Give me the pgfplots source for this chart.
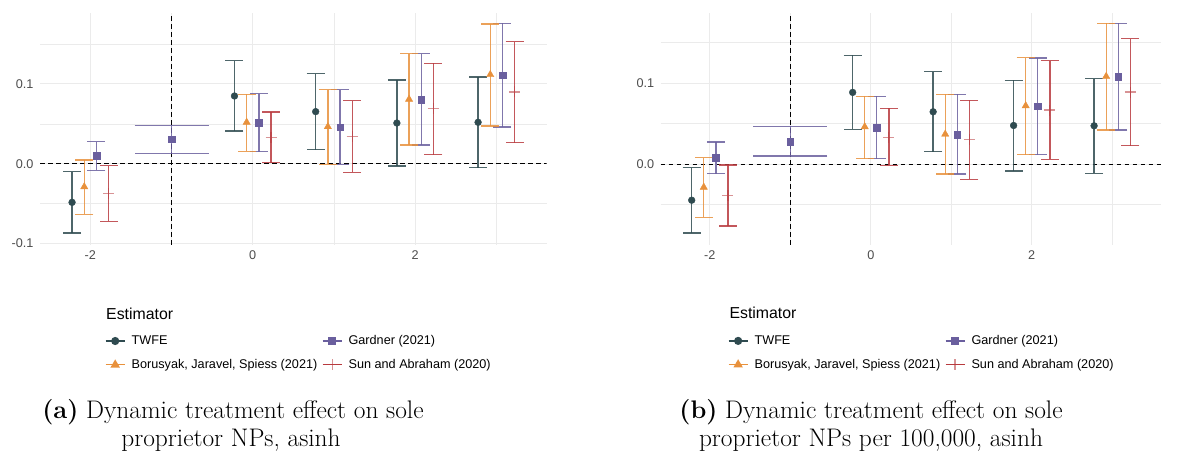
\documentclass[border=0pt]{standalone}
\usepackage{fontspec}
\usepackage{pgfplots}
\usepackage{pgfplotstable}
\pgfplotsset{compat=1.18}
\newfontfamily\arial{Liberation Sans}
\definecolor{twfe}{HTML}{2F4B50}
\definecolor{gard}{HTML}{6A5F9E}
\definecolor{bor}{HTML}{E8913C}
\definecolor{sun}{HTML}{B83A3E}
\definecolor{gridc}{HTML}{EBEBEB}
\definecolor{ticktext}{HTML}{4D4D4D}

% ---------- panel (a) ----------
\pgfplotstableread{
x y lo hi
-2.225 -0.0485 -0.087 -0.010
-0.225 0.0849 0.041 0.1293
0.775 0.0653 0.0176 0.113
1.775 0.051 -0.0029 0.105
2.775 0.0519 -0.005 0.1088
}\twfeA
\pgfplotstableread{
x y lo hi
-1.925 0.010 -0.0084 0.0276
0.075 0.0515 0.0151 0.0879
1.075 0.046 -0.0008 0.0929
2.075 0.0803 0.0234 0.138
3.075 0.1109 0.046 0.176
}\gardA
\pgfplotstableread{
x y lo hi
-1 0.0305 0.0126 0.0477
}\gardrefA
\pgfplotstableread{
x y lo hi
-2.075 -0.029 -0.0636 0.0046
-0.075 0.0519 0.0155 0.087
0.925 0.0464 -0.0008 0.0929
1.925 0.0808 0.0234 0.138
2.925 0.1117 0.0473 0.1753
}\borA
\pgfplotstableread{
x y lo hi
-1.775 -0.0377 -0.0724 -0.0025
0.225 0.033 0.0013 0.0649
1.225 0.0339 -0.0109 0.079
2.225 0.069 0.0113 0.126
3.225 0.09 0.0264 0.153
}\sunA

% ---------- panel (b) ----------
\pgfplotstableread{
x y lo hi
-2.225 -0.0444 -0.0848 -0.0041
-0.225 0.0885 0.0428 0.134
0.775 0.0646 0.0156 0.114
1.775 0.0477 -0.0086 0.1033
2.775 0.0473 -0.0111 0.1053
}\twfeB
\pgfplotstableread{
x y lo hi
-1.925 0.0078 -0.0115 0.0272
0.075 0.0449 0.007 0.0835
1.075 0.0366 -0.0123 0.086
2.075 0.0716 0.0119 0.1309
3.075 0.1082 0.042 0.1737
}\gardB
\pgfplotstableread{
x y lo hi
-1 0.028 0.0103 0.0465
}\gardrefB
\pgfplotstableread{
x y lo hi
-2.075 -0.0284 -0.0654 0.0082
-0.075 0.0461 0.007 0.0835
0.925 0.037 -0.0123 0.086
1.925 0.072 0.0119 0.1313
2.925 0.1082 0.042 0.1737
}\borB
\pgfplotstableread{
x y lo hi
-1.775 -0.0387 -0.0761 -0.0012
0.225 0.0333 -0.0016 0.0687
1.225 0.030 -0.0185 0.0786
2.225 0.0667 0.0058 0.1276
3.225 0.0889 0.023 0.1547
}\sunB

\pgfplotsset{
  myaxis/.style={
    scale only axis, anchor=south west,
    axis line style={draw=none}, tick style={draw=none}, major tick length=0pt,
    xmajorgrids, ymajorgrids, xminorgrids, yminorgrids,
    major grid style={gridc, line width=1.07bp},
    minor grid style={gridc, line width=0.6bp},
    xtick={-2,0,2}, xticklabels={{-2},{0},{2}}, minor xtick={-1,1,3},
    ytick={-0.1,0,0.1}, yticklabels={{-0.1},{0.0},{0.1}}, minor ytick={-0.05,0.05,0.15},
    ticklabel style={font=\arial\fontsize{12.7}{15}\selectfont, text=ticktext},
    xticklabel style={yshift=-2bp},
    yticklabel style={xshift=-3bp},
    legend columns=2, legend cell align=left,
    legend style={draw=none, fill=none, anchor=north west,
      font=\arial\fontsize{12.7}{15}\selectfont, inner sep=0pt, row sep=13bp,
      nodes={inner sep=0pt},
      /tikz/every odd column/.style={column sep=6.3bp},
      /tikz/every even column/.style={column sep=4.7bp}},
  },
  eb/.style={only marks,
    error bars/y dir=both, error bars/y explicit,
    error bars/error bar style={line width=1.35bp, solid, #1, opacity=0.85},
    error bars/error mark options={rotate=90, line width=1.35bp, mark size=9bp, #1, opacity=0.85},
    legend image code/.code={\draw[mark repeat=2,mark phase=2,##1, sharp plot, line width=1.3bp] plot coordinates {(0bp,0bp) (9.5bp,0bp) (19bp,0bp)};}},
  ebwide/.style={only marks,
    error bars/y dir=both, error bars/y explicit,
    error bars/error bar style={line width=1.35bp, solid, #1, opacity=0.85},
    error bars/error mark options={rotate=90, line width=1.35bp, mark size=37bp, #1, opacity=0.85}},
  zl/.style={black, line width=1.2bp, dash pattern=on 4.5bp off 3.5bp, forget plot},
}

\begin{document}
\begin{tikzpicture}
\path[use as bounding box] (0bp,0bp) rectangle (1180bp,459bp);

\begin{axis}[myaxis, at={(40bp,214bp)}, width=506.7bp, height=232bp,
  xmin=-2.62, xmax=3.62, ymin=-0.102, ymax=0.189,
  legend style={at={(0.128,-0.39)}}]
\addplot[zl] coordinates {(-2.62,0) (3.62,0)};
\addplot[zl] coordinates {(-1,-0.102) (-1,0.189)};
\addplot[color=twfe, mark=*, mark size=3.4bp, eb=twfe] table[x=x, y=y, y error plus expr=\thisrow{hi}-\thisrow{y}, y error minus expr=\thisrow{y}-\thisrow{lo}] {\twfeA};
\addlegendentry{TWFE}
\addplot[color=gard, mark=square*, mark size=3.3bp, eb=gard] table[x=x, y=y, y error plus expr=\thisrow{hi}-\thisrow{y}, y error minus expr=\thisrow{y}-\thisrow{lo}] {\gardA};
\addlegendentry{Gardner (2021)}
\addplot[color=bor, mark=triangle*, mark size=4.2bp, eb=bor] table[x=x, y=y, y error plus expr=\thisrow{hi}-\thisrow{y}, y error minus expr=\thisrow{y}-\thisrow{lo}] {\borA};
\addlegendentry{Borusyak, Jaravel, Spiess (2021)}
\addplot[color=sun, mark=+, mark size=5.5bp, mark options={opacity=0.55, line width=1.2bp}, eb=sun] table[x=x, y=y, y error plus expr=\thisrow{hi}-\thisrow{y}, y error minus expr=\thisrow{y}-\thisrow{lo}] {\sunA};
\addlegendentry{Sun and Abraham (2020)}
\addplot[color=gard, mark=square*, mark size=3.3bp, ebwide=gard, forget plot] table[x=x, y=y, y error plus expr=\thisrow{hi}-\thisrow{y}, y error minus expr=\thisrow{y}-\thisrow{lo}] {\gardrefA};
\end{axis}

\begin{axis}[myaxis, at={(660.7bp,214bp)}, width=500.6bp, height=231.7bp,
  xmin=-2.61, xmax=3.61, ymin=-0.0996, ymax=0.186,
  legend style={at={(0.134,-0.39)}}]
\addplot[zl] coordinates {(-2.61,0) (3.61,0)};
\addplot[zl] coordinates {(-1,-0.0996) (-1,0.186)};
\addplot[color=twfe, mark=*, mark size=3.4bp, eb=twfe] table[x=x, y=y, y error plus expr=\thisrow{hi}-\thisrow{y}, y error minus expr=\thisrow{y}-\thisrow{lo}] {\twfeB};
\addlegendentry{TWFE}
\addplot[color=gard, mark=square*, mark size=3.3bp, eb=gard] table[x=x, y=y, y error plus expr=\thisrow{hi}-\thisrow{y}, y error minus expr=\thisrow{y}-\thisrow{lo}] {\gardB};
\addlegendentry{Gardner (2021)}
\addplot[color=bor, mark=triangle*, mark size=4.2bp, eb=bor] table[x=x, y=y, y error plus expr=\thisrow{hi}-\thisrow{y}, y error minus expr=\thisrow{y}-\thisrow{lo}] {\borB};
\addlegendentry{Borusyak, Jaravel, Spiess (2021)}
\addplot[color=sun, mark=+, mark size=5.5bp, mark options={opacity=0.55, line width=1.2bp}, eb=sun] table[x=x, y=y, y error plus expr=\thisrow{hi}-\thisrow{y}, y error minus expr=\thisrow{y}-\thisrow{lo}] {\sunB};
\addlegendentry{Sun and Abraham (2020)}
\addplot[color=gard, mark=square*, mark size=3.3bp, ebwide=gard, forget plot] table[x=x, y=y, y error plus expr=\thisrow{hi}-\thisrow{y}, y error minus expr=\thisrow{y}-\thisrow{lo}] {\gardrefB};
\end{axis}

\node[anchor=base west, font=\arial\fontsize{15.9}{19}\selectfont] at (102.7bp,139.7bp) {Estimator};
\node[anchor=base west, font=\arial\fontsize{15.9}{19}\selectfont] at (726bp,140bp) {Estimator};

\node[anchor=base, font=\fontsize{25.5}{29}\selectfont] at (233bp,40.5bp) {\textbf{(a)} Dynamic treatment effect on sole};
\node[anchor=base, font=\fontsize{25.5}{29}\selectfont] at (231bp,12.5bp) {proprietor NPs, asinh};
\node[anchor=base, font=\fontsize{25.5}{29}\selectfont] at (871bp,40.5bp) {\textbf{(b)} Dynamic treatment effect on sole};
\node[anchor=base, font=\fontsize{25.5}{29}\selectfont] at (871bp,12.5bp) {proprietor NPs per 100,000, asinh};
\end{tikzpicture}
\end{document}
